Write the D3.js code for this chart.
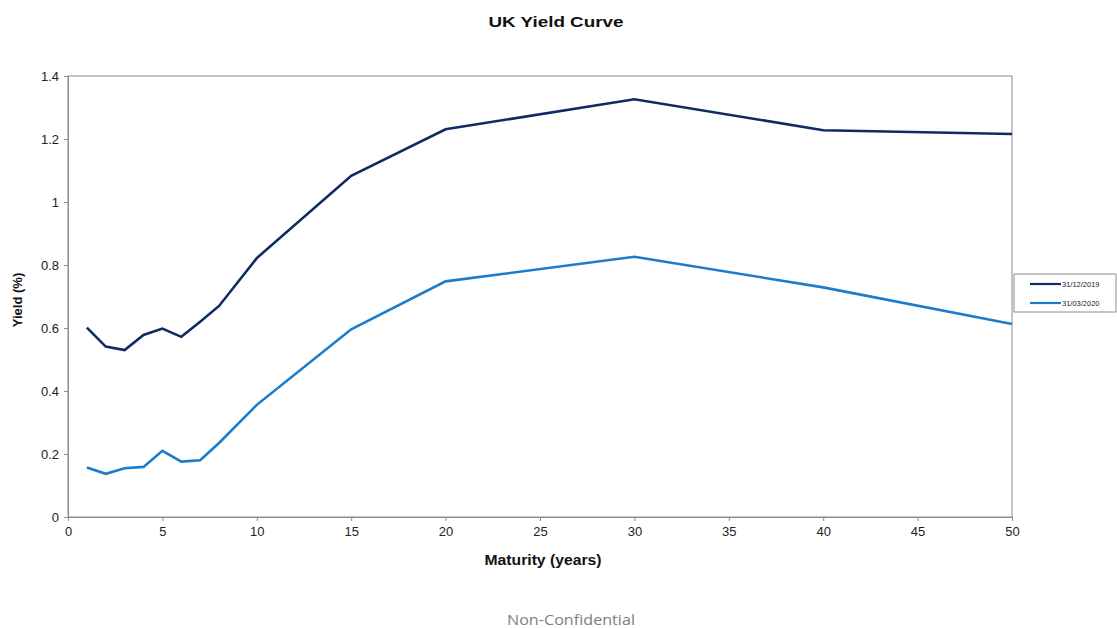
<!DOCTYPE html>
<html>
<head>
<meta charset="utf-8">
<script src="https://cdn.jsdelivr.net/npm/d3@7"></script>
<style>
  html, body { margin: 0; padding: 0; background: #fff; }
  svg { display: block; font-family: "Liberation Sans", Arial, sans-serif; }
</style>
</head>
<body>
<svg id="chart" width="1117" height="628"></svg>
<script>
const title = "UK Yield Curve";
const xLabel = "Maturity (years)";
const yLabel = "Yield (%)";
const footer = "Non-Confidential";

const seriesNames = ["31/12/2019", "31/03/2020"];
const maturities = [1, 2, 3, 4, 5, 6, 7, 8, 10, 15, 20, 30, 40, 50];
const yields2019 = [0.601, 0.541, 0.530, 0.578, 0.598, 0.572, 0.620, 0.670, 0.822, 1.083, 1.231, 1.326, 1.228, 1.216];
const yields2020 = [0.157, 0.137, 0.155, 0.159, 0.210, 0.176, 0.180, 0.235, 0.356, 0.596, 0.748, 0.826, 0.729, 0.613];
const xTicks = [0, 5, 10, 15, 20, 25, 30, 35, 40, 45, 50];
const yTicks = [0, 0.2, 0.4, 0.6, 0.8, 1, 1.2, 1.4];
const colors = ["#102a66", "#1c7ccc"];

(function () {
const svg = d3.select("#chart");
const pL = 68, pR = 1012, pT = 76, pB = 517;

const x = d3.scaleLinear().domain([0, 50]).range([pL, pR]);
const y = d3.scaleLinear().domain([0, 1.4]).range([pB, pT]);

// plot frame
svg.append("rect")
  .attr("x", pL).attr("y", pT)
  .attr("width", pR - pL).attr("height", pB - pT)
  .attr("fill", "none").attr("stroke", "#8c8c8c").attr("stroke-width", 1);

// axes
const xAxis = svg.append("g")
  .attr("transform", `translate(0,${pB})`)
  .call(d3.axisBottom(x).tickValues(xTicks).tickSize(4).tickSizeOuter(0).tickFormat(d3.format("d")));
const yAxis = svg.append("g")
  .attr("transform", `translate(${pL},0)`)
  .call(d3.axisLeft(y).tickValues(yTicks).tickSize(4).tickSizeOuter(0).tickFormat(d => String(+d.toFixed(1))));

[xAxis, yAxis].forEach(g => {
  g.select(".domain").attr("stroke", "#8c8c8c");
  g.selectAll(".tick line").attr("stroke", "#8c8c8c");
  g.selectAll(".tick text")
    .attr("fill", "#222")
    .style("font-family", "'Liberation Sans', Arial, sans-serif")
    .style("font-size", "13px");
});
xAxis.selectAll(".tick text").attr("dy", "0.95em").attr("y", 7);
yAxis.selectAll(".tick text").attr("x", -9);

// lines
const allSeries = [yields2019, yields2020];
const line = d3.line().x(d => x(d[0])).y(d => y(d[1]));
allSeries.forEach((vals, i) => {
  const pts = maturities.map((m, j) => [m, vals[j]]);
  svg.append("path")
    .datum(pts)
    .attr("d", line)
    .attr("fill", "none")
    .attr("stroke", colors[i])
    .attr("stroke-width", 2.6)
    .attr("stroke-linejoin", "miter");
});

// title
svg.append("text")
  .attr("x", 556).attr("y", 27)
  .attr("text-anchor", "middle")
  .attr("textLength", 135).attr("lengthAdjust", "spacingAndGlyphs")
  .style("font-size", "15.5px").style("font-weight", "bold")
  .attr("fill", "#111")
  .text(title);

// axis titles
svg.append("text")
  .attr("x", 543).attr("y", 565)
  .attr("text-anchor", "middle")
  .attr("textLength", 117).attr("lengthAdjust", "spacingAndGlyphs")
  .style("font-size", "14px").style("font-weight", "bold")
  .attr("fill", "#111")
  .text(xLabel);

svg.append("text")
  .attr("transform", `translate(22,300) rotate(-90)`)
  .attr("text-anchor", "middle")
  .style("font-size", "13px").style("font-weight", "bold")
  .attr("fill", "#111")
  .text(yLabel);

// legend
const lg = svg.append("g");
lg.append("rect")
  .attr("x", 1014).attr("y", 274)
  .attr("width", 102).attr("height", 38)
  .attr("fill", "#fff").attr("stroke", "#8c8c8c").attr("stroke-width", 1);
seriesNames.forEach((name, i) => {
  const yy = 284 + i * 19;
  lg.append("line")
    .attr("x1", 1030).attr("x2", 1061)
    .attr("y1", yy).attr("y2", yy)
    .attr("stroke", colors[i]).attr("stroke-width", 2.2);
  lg.append("text")
    .attr("x", 1062).attr("y", yy)
    .attr("dy", "0.35em")
    .style("font-size", "7.5px")
    .attr("fill", "#222")
    .text(name);
});

// footer
svg.append("text")
  .attr("x", 571).attr("y", 625)
  .attr("text-anchor", "middle")
  .attr("textLength", 128).attr("lengthAdjust", "spacingAndGlyphs")
  .style("font-family", "'Open Sans', 'Noto Sans', sans-serif")
  .style("font-size", "15px")
  .attr("fill", "#808080")
  .text(footer);
})();
</script>
</body>
</html>
